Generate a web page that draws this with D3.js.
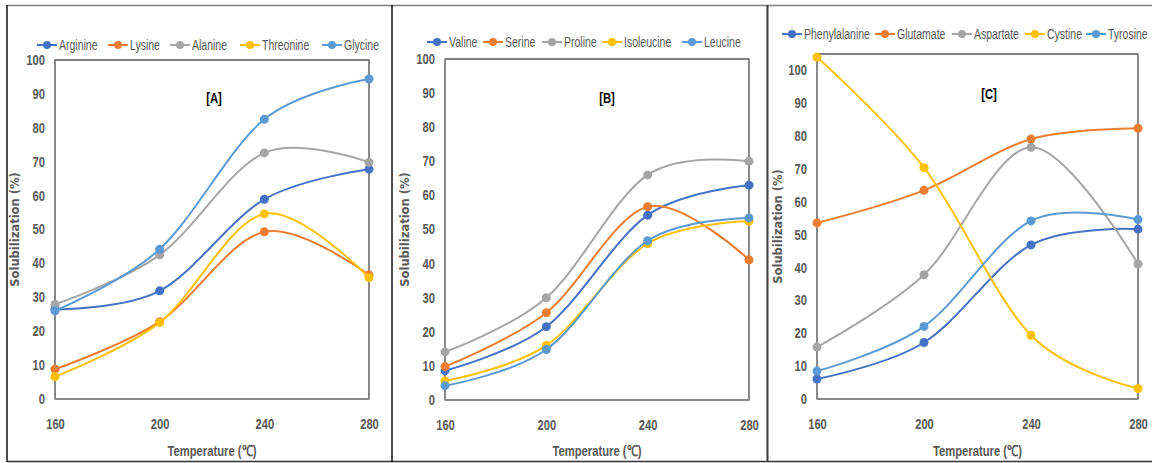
<!DOCTYPE html>
<html>
<head>
<meta charset="utf-8">
<script src="https://cdn.jsdelivr.net/npm/d3@7/dist/d3.min.js"></script>
<style>
  body { margin: 0; background: #fff; }
  svg { display: block; }
</style>
</head>
<body>
<div id="chart"></div>
<script>
// temperatures (x categories)
var temps = [160, 200, 240, 280];
var colors = ["#4472C4", "#ED7D31", "#A5A5A5", "#FFC000", "#5B9BD5"];

// panel A
var namesA = ["Arginine", "Lysine", "Alanine", "Threonine", "Glycine"];
var arginine = [26.4, 31.9, 58.9, 67.8];
var lysine = [8.8, 22.8, 49.3, 36.6];
var alanine = [27.9, 42.5, 72.6, 69.8];
var threonine = [6.6, 22.6, 54.6, 35.8];
var glycine = [26.0, 44.2, 82.5, 94.4];

// panel B
var namesB = ["Valine", "Serine", "Proline", "Isoleucine", "Leucine"];
var valine = [8.6, 21.5, 54.2, 63.0];
var serine = [9.8, 25.6, 56.7, 41.1];
var proline = [14.1, 30.0, 66.0, 70.0];
var isoleucine = [5.6, 16.0, 45.9, 52.4];
var leucine = [4.2, 14.8, 46.7, 53.4];

// panel C
var namesC = ["Phenylalanine", "Glutamate", "Aspartate", "Cystine", "Tyrosine"];
var phenylalanine = [6.1, 17.2, 46.9, 51.7];
var glutamate = [53.6, 63.5, 79.1, 82.4];
var aspartate = [15.8, 37.8, 76.6, 41.1];
var cystine = [104.0, 70.4, 19.4, 3.2];
var tyrosine = [8.5, 22.1, 54.2, 54.6];

var yTicksAB = [0, 10, 20, 30, 40, 50, 60, 70, 80, 90, 100];
var yTicksC = [0, 10, 20, 30, 40, 50, 60, 70, 80, 90, 100];

var panels = [
  { label: "[A]", names: namesA, series: [arginine, lysine, alanine, threonine, glycine],
    left: 55, right: 369, top: 60, bottom: 399, ymax: 100, ticks: yTicksAB,
    legendY: 45, legendX: [47, 118, 180, 250, 332], labelX: 214, labelY: 98, titleX: 15 },
  { label: "[B]", names: namesB, series: [valine, serine, proline, isoleucine, leucine],
    left: 445, right: 749, top: 59, bottom: 400, ymax: 100, ticks: yTicksAB,
    legendY: 42, legendX: [437, 493, 552, 612, 692], labelX: 607, labelY: 98, titleX: 405 },
  { label: "[C]", names: namesC, series: [phenylalanine, glutamate, aspartate, cystine, tyrosine],
    left: 817, right: 1138, top: 54, bottom: 399, ymax: 105, ticks: yTicksC,
    legendY: 34, legendX: [792, 885, 962, 1035, 1096], labelX: 989, labelY: 94, titleX: 778 }
];

var sans = "'Liberation Sans', Arial, sans-serif";

// squeeze text horizontally (the source font is a narrow one)
function squeeze(sel, f) {
  sel.each(function () {
    var w = this.getComputedTextLength();
    d3.select(this).attr("textLength", w * f).attr("lengthAdjust", "spacingAndGlyphs");
  });
}

var svg = d3.select("#chart").append("svg")
  .attr("width", 1152).attr("height", 463);

// frames
svg.append("line").attr("x1", 7).attr("x2", 1152).attr("y1", 5.5).attr("y2", 5.5)
  .attr("stroke", "#7f7f7f").attr("stroke-width", 1.5);
svg.append("line").attr("x1", 7).attr("x2", 1152).attr("y1", 461.5).attr("y2", 461.5)
  .attr("stroke", "#333").attr("stroke-width", 1.5);
[7, 392, 767.5].forEach(function (x, i) {
  svg.append("line").attr("x1", x).attr("x2", x).attr("y1", 5).attr("y2", 462)
    .attr("stroke", i == 2 ? "#3a3a3a" : "#111").attr("stroke-width", i == 2 ? 2 : 1.5);
});

panels.forEach(function (p) {
  var g = svg.append("g");
  var x = d3.scaleLinear().domain([160, 280]).range([p.left, p.right]);
  var y = d3.scaleLinear().domain([0, p.ymax]).range([p.bottom, p.top]);

  // plot area border
  g.append("rect").attr("x", p.left).attr("y", p.top)
    .attr("width", p.right - p.left).attr("height", p.bottom - p.top)
    .attr("fill", "none").attr("stroke", "#000").attr("stroke-width", 1);

  // axes
  var yAxis = g.append("g").attr("transform", "translate(" + p.left + ",0)")
    .call(d3.axisLeft(y).tickValues(p.ticks).tickSize(0).tickPadding(10));
  var xAxis = g.append("g").attr("transform", "translate(0," + p.bottom + ")")
    .call(d3.axisBottom(x).tickValues(temps).tickSize(0).tickPadding(20));
  [xAxis, yAxis].forEach(function (a) {
    a.select(".domain").remove();
    a.selectAll("text").attr("fill", "#595959").style("font-family", sans)
      .style("font-size", "14px").style("font-weight", "bold")
      .call(squeeze, 0.8);
  });
  g.append("line").attr("x1", p.left).attr("x2", p.left).attr("y1", p.top).attr("y2", p.bottom)
    .attr("stroke", "#8c8c8c").attr("stroke-width", 1.5);
  g.append("line").attr("x1", p.right).attr("x2", p.right).attr("y1", p.top).attr("y2", p.bottom)
    .attr("stroke", "#8c8c8c").attr("stroke-width", 1.5);
  g.append("line").attr("x1", p.left).attr("x2", p.right).attr("y1", p.bottom).attr("y2", p.bottom)
    .attr("stroke", "#8c8c8c").attr("stroke-width", 1.5);

  // axis titles
  g.append("text").attr("x", (p.left + p.right) / 2).attr("y", 456)
    .attr("text-anchor", "middle").attr("fill", "#595959")
    .style("font-family", sans).style("font-size", "15px").style("font-weight", "bold")
    .text("Temperature (℃)")
    .call(squeeze, 0.75);
  g.append("text")
    .attr("transform", "translate(" + (p.titleX + 4) + "," + ((p.top + p.bottom) / 2) + ") rotate(-90)")
    .attr("text-anchor", "middle").attr("fill", "#595959")
    .style("font-family", "'DejaVu Sans', Verdana, sans-serif").style("font-size", "11.5px").style("font-weight", "bold")
    .text("Solubilization (%)");

  // panel label
  g.append("text").attr("x", p.labelX).attr("y", p.labelY + 5)
    .attr("text-anchor", "middle").attr("fill", "#000")
    .style("font-family", sans).style("font-size", "15px").style("font-weight", "bold")
    .text(p.label)
    .call(squeeze, 0.75);

  // lines
  var line = d3.line()
    .x(function (d, i) { return x(temps[i]); })
    .y(function (d) { return y(d); })
    .curve(d3.curveCardinal.tension(0));

  p.series.forEach(function (s, k) {
    g.append("path").attr("d", line(s)).attr("fill", "none")
      .attr("stroke", colors[k]).attr("stroke-width", 2);
    g.selectAll(".pt" + k).data(s).enter().append("circle")
      .attr("cx", function (d, i) { return x(temps[i]); })
      .attr("cy", function (d) { return y(d); })
      .attr("r", 4.5).attr("fill", colors[k]);
  });

  // legend (text scaled narrow with a transform)
  p.names.forEach(function (n, k) {
    var cx = p.legendX[k];
    var lg = g.append("g");
    lg.append("line").attr("x1", cx - 10).attr("x2", cx + 10)
      .attr("y1", p.legendY).attr("y2", p.legendY)
      .attr("stroke", colors[k]).attr("stroke-width", 2);
    lg.append("circle").attr("cx", cx).attr("cy", p.legendY).attr("r", 4).attr("fill", colors[k]);
    lg.append("text")
      .attr("transform", "translate(" + (cx + 12) + "," + (p.legendY + 5) + ") scale(0.7,1)")
      .attr("fill", "#595959").style("font-family", sans).style("font-size", "15px")
      .text(n);
  });
});
</script>
</body>
</html>
